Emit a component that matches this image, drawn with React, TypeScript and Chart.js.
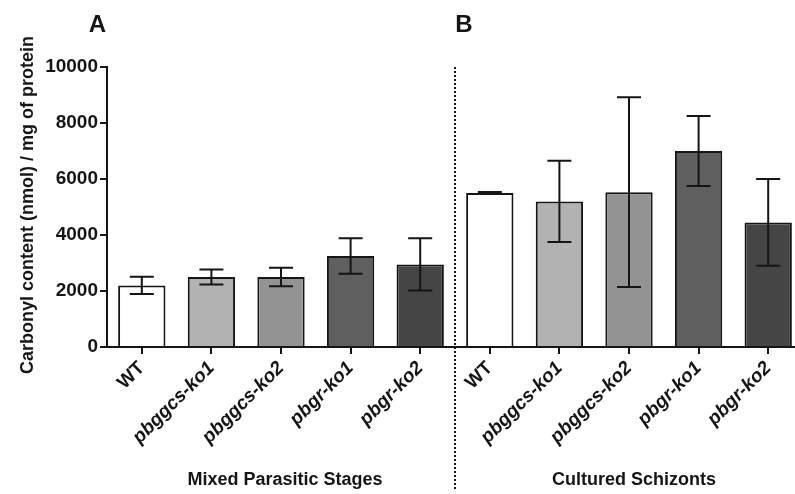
import React, { useEffect, useRef } from 'react';
import { Chart, registerables } from 'chart.js';
Chart.register(...registerables);

const categories = ['WT', 'pbggcs-ko1', 'pbggcs-ko2', 'pbgr-ko1', 'pbgr-ko2', 'WT', 'pbggcs-ko1', 'pbggcs-ko2', 'pbgr-ko1', 'pbgr-ko2'];
const means = [2200, 2500, 2500, 3250, 2950, 5500, 5200, 5530, 7000, 4450];
const errors = [310, 270, 330, 630, 930, 40, 1450, 3390, 1250, 1550];
const barColors = ['#ffffff', '#b2b2b2', '#939393', '#5f5f5f', '#454545', '#ffffff', '#b2b2b2', '#939393', '#5f5f5f', '#454545'];
const groupTitles = ['Mixed Parasitic Stages', 'Cultured Schizonts'];
const panelLabels = ['A', 'B'];
const yTitle = 'Carbonyl content (nmol) / mg of protein';
const yTicks = [0, 2000, 4000, 6000, 8000, 10000];

const FAMILY = "Arial, 'Liberation Sans', Helvetica, sans-serif";
const INK = '#151515';

const errorBarPlugin = {
  id: 'errorBars',
  afterDatasetsDraw(chart: any) {
    const { ctx } = chart;
    const xs = chart.scales.x;
    const ys = chart.scales.y;
    ctx.save();
    ctx.strokeStyle = INK;
    ctx.lineWidth = 2;
    means.forEach((m, i) => {
      const x = xs.getPixelForValue(i);
      const yt = ys.getPixelForValue(m + errors[i]);
      const yb = ys.getPixelForValue(m - errors[i]);
      ctx.beginPath();
      ctx.moveTo(x, yt);
      ctx.lineTo(x, yb);
      ctx.moveTo(x - 12, yt);
      ctx.lineTo(x + 12, yt);
      ctx.moveTo(x - 12, yb);
      ctx.lineTo(x + 12, yb);
      ctx.stroke();
    });
    ctx.restore();
  },
};

const annotationPlugin = {
  id: 'annotations',
  afterDraw(chart: any) {
    const { ctx, chartArea } = chart;
    const xs = chart.scales.x;
    ctx.save();
    const sepX = (xs.getPixelForValue(4) + xs.getPixelForValue(5)) / 2;
    ctx.strokeStyle = INK;
    ctx.lineWidth = 2;
    ctx.setLineDash([2, 2]);
    ctx.beginPath();
    ctx.moveTo(sepX, chartArea.top);
    ctx.lineTo(sepX, 489);
    ctx.stroke();
    ctx.setLineDash([]);

    ctx.fillStyle = INK;
    ctx.font = `bold 18px ${FAMILY}`;
    ctx.textAlign = 'center';
    ctx.textBaseline = 'alphabetic';
    const c1 = (xs.getPixelForValue(0) + xs.getPixelForValue(4)) / 2;
    const c2 = (xs.getPixelForValue(5) + xs.getPixelForValue(9)) / 2;
    ctx.fillText(groupTitles[0], c1 + 4, 485);
    ctx.fillText(groupTitles[1], c2 + 5, 485);

    ctx.font = `bold 24px ${FAMILY}`;
    ctx.fillText(panelLabels[0], 97.5, 32);
    ctx.fillText(panelLabels[1], sepX + 9, 32);

    ctx.font = `bold 18px ${FAMILY}`;
    ctx.translate(33, (chartArea.top + chartArea.bottom) / 2 - 2);
    ctx.rotate(-Math.PI / 2);
    ctx.fillText(yTitle, 0, 0);
    ctx.restore();
  },
};

export default function App() {
  const ref = useRef<HTMLCanvasElement>(null);
  useEffect(() => {
    const chart = new Chart(ref.current as HTMLCanvasElement, {
      type: 'bar',
      data: {
        labels: categories,
        datasets: [
          {
            data: means,
            backgroundColor: barColors,
            borderColor: INK,
            borderWidth: 2,
            barPercentage: 0.68,
            categoryPercentage: 1,
          },
        ],
      },
      options: {
        animation: false,
        responsive: false,
        maintainAspectRatio: false,
        layout: { padding: { top: 67, left: 0, right: 0, bottom: 0 } },
        plugins: { legend: { display: false }, tooltip: { enabled: false } },
        scales: {
          x: {
            offset: true,
            grid: { display: true, offset: false, drawOnChartArea: false, drawTicks: true, tickLength: 7, lineWidth: 2, color: INK },
            border: { display: true, color: INK, width: 2 },
            ticks: {
              autoSkip: false,
              minRotation: 45,
              maxRotation: 45,
              padding: 3,
              color: INK,
              font: (c: any) => ({ family: FAMILY, size: 19, weight: 'bold', style: c.index % 5 === 0 ? 'normal' : 'italic' }),
            },
            afterFit: (s: any) => {
              s.height = 147;
            },
          },
          y: {
            min: 0,
            max: 10000,
            afterBuildTicks: (s: any) => {
              s.ticks = yTicks.map((v) => ({ value: v }));
            },
            ticks: {
              padding: 2,
              color: INK,
              font: { family: FAMILY, size: 19, weight: 'bold' },
              callback: (v: any) => String(v),
            },
            grid: { display: true, drawOnChartArea: false, drawTicks: true, tickLength: 7, lineWidth: 2, color: INK },
            border: { display: true, color: INK, width: 2 },
            afterFit: (s: any) => {
              s.width = 107;
            },
          },
        },
      } as any,
      plugins: [errorBarPlugin, annotationPlugin],
    });
    return () => chart.destroy();
  }, []);
  return (
    <div style={{ position: 'absolute', left: 0, top: 0, width: 795, height: 494, overflow: 'hidden', background: '#fff' }}>
      <canvas ref={ref} width={803} height={494} style={{ width: 803, height: 494, display: 'block' }} />
    </div>
  );
}
